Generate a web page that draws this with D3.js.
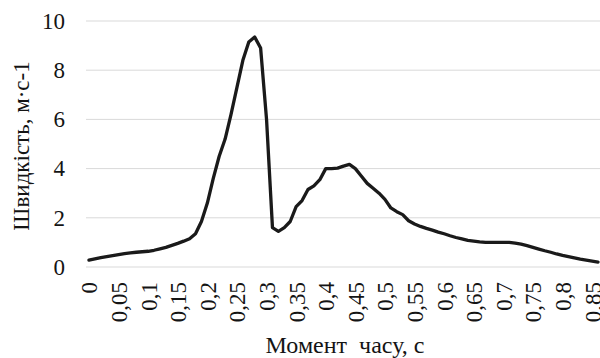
<!DOCTYPE html>
<html>
<head>
<meta charset="utf-8">
<script src="https://cdn.jsdelivr.net/npm/d3@7"></script>
<style>
  html, body { margin: 0; padding: 0; background: #fff; }
  svg { display: block; }
  svg text { font-family: "Liberation Serif", "Times New Roman", serif; fill: #141414; }
</style>
</head>
<body>
<svg id="chart" width="600" height="358"></svg>
<script>
// Time moments (s), one per 0.01 s
const times = d3.range(87).map(i => i / 100);
// Speed values, m·s-1
const speed = [
  0.28, 0.33, 0.38, 0.42, 0.46, 0.50, 0.54, 0.57, 0.60, 0.62,
  0.64, 0.68, 0.74, 0.80, 0.88, 0.96, 1.05, 1.15, 1.35, 1.85,
  2.60, 3.60, 4.50, 5.20, 6.20, 7.30, 8.40, 9.15, 9.35, 8.90,
  6.00, 1.60, 1.45, 1.60, 1.85, 2.45, 2.70, 3.15, 3.30, 3.55,
  4.00, 4.00, 4.02, 4.10, 4.17, 4.00, 3.70, 3.40, 3.20, 3.00,
  2.75, 2.40, 2.25, 2.13, 1.88, 1.75, 1.65, 1.57, 1.50, 1.42,
  1.35, 1.27, 1.20, 1.14, 1.08, 1.05, 1.02, 1.00, 1.00, 1.00,
  1.00, 1.00, 0.97, 0.93, 0.87, 0.80, 0.73, 0.66, 0.60, 0.53,
  0.47, 0.42, 0.37, 0.32, 0.28, 0.24, 0.20
];
// Tick labels shown every 0.05 s
const xTickLabels = ["0","0,05","0,1","0,15","0,2","0,25","0,3","0,35","0,4","0,45",
                     "0,5","0,55","0,6","0,65","0,7","0,75","0,8","0,85"];
const yTicks = [0, 2, 4, 6, 8, 10];
const yTitle = "Швидкість, м·с-1";
const xTitle = "Момент  часу, с";

const FONT = '"Liberation Serif", "Times New Roman", serif';
const FS = "23px";
const svg = d3.select("#chart");
const mLeft = 86, mRight = 601, mTop = 21, mBottom = 267;

const x = d3.scalePoint().domain(d3.range(times.length)).range([mLeft, mRight]).padding(0.5);
const y = d3.scaleLinear().domain([0, 10]).range([mBottom, mTop]);

// gridlines
svg.append("g").selectAll("line").data(yTicks).join("line")
  .attr("x1", mLeft).attr("x2", mRight)
  .attr("y1", d => y(d)).attr("y2", d => y(d))
  .attr("stroke", "#d9d9d9").attr("stroke-width", 1);

// y axis labels
const yAxis = d3.axisLeft(y).tickValues(yTicks).tickSize(0).tickPadding(0).tickFormat(d3.format("d"));
const gy = svg.append("g").attr("transform", `translate(${mLeft - 21},0)`).call(yAxis);
gy.attr("font-family", null).attr("font-size", null);
gy.select(".domain").remove();
gy.selectAll("text").style("font-size", FS).style("font-family", FONT).attr("fill", "#141414");

// x axis labels
const labelIdx = xTickLabels.map((_, k) => k * 5);
const xAxis = d3.axisBottom(x).tickValues(labelIdx).tickSize(0).tickFormat((d) => xTickLabels[d / 5]);
const gx = svg.append("g").attr("transform", `translate(0,${mBottom})`).call(xAxis);
gx.attr("font-family", null).attr("font-size", null);
gx.select(".domain").remove();
gx.selectAll("text")
  .style("font-size", FS).style("font-family", FONT).attr("fill", "#141414")
  .attr("text-anchor", "end")
  .attr("dy", null)
  .attr("y", 0)
  .attr("transform", "translate(8,15) rotate(-90)");

// line
const line = d3.line().x((d, i) => x(i)).y(d => y(d));
svg.append("path").datum(speed)
  .attr("fill", "none").attr("stroke", "#1a1a1a").attr("stroke-width", 3.3)
  .attr("stroke-linejoin", "round").attr("stroke-linecap", "round")
  .attr("d", line);

// titles
svg.append("text")
  .attr("transform", `translate(29,146) rotate(-90)`)
  .attr("text-anchor", "middle")
  .style("font-size", FS).style("font-family", FONT)
  .text(yTitle);
svg.append("text")
  .attr("x", 345).attr("y", 353)
  .attr("text-anchor", "middle")
  .style("font-size", "24px").style("font-family", FONT)
  .style("white-space", "pre")
  .text(xTitle);
</script>
</body>
</html>
